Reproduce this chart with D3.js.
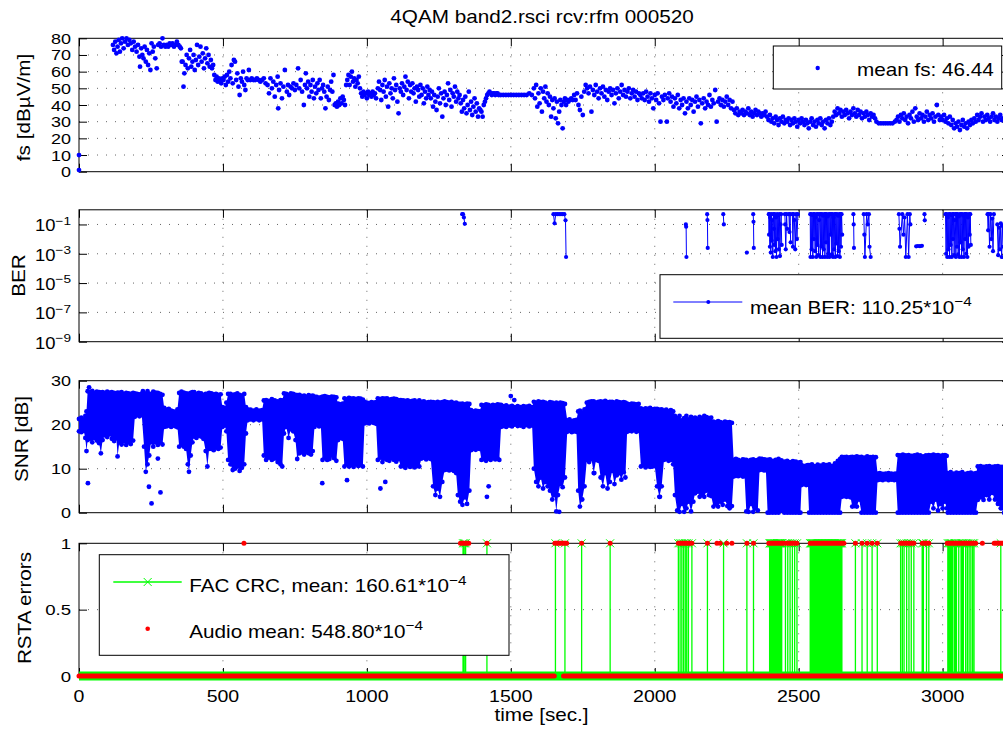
<!DOCTYPE html>
<html>
<head>
<meta charset="utf-8">
<script src="https://cdn.jsdelivr.net/npm/d3@7"></script>
<style>
    body { margin: 0; background: #fff; }
    svg text { font-family: "Liberation Sans", Arial, Helvetica, sans-serif; fill: #000; }
</style>
</head>
<body>
<div id="viz_div"></div>
<script>
// TICKS AND TEXTS
// ---------------------------------------------------------------------------------------------------------------------------------
const timeTicks = [0, 500, 1000, 1500, 2000, 2500, 3000];
const fsTicks = [0, 10, 20, 30, 40, 50, 60, 70, 80];
const berTickExp = [-9, -7, -5, -3, -1];
const snrTicks = [0, 10, 20, 30];
const rstaTicks = [0, 0.5, 1];
const titleText = "4QAM band2.rsci rcv:rfm 000520";
const legendFs = "mean fs: 46.44";
const legendBer = "mean BER: 110.25*10";
const legendFac = "FAC CRC, mean: 160.61*10";
const legendAudio = "Audio mean: 548.80*10";

// FIELD STRENGTH [time, dBuV/m]
// ---------------------------------------------------------------------------------------------------------------------------------
const fsPoints = [
    [0, 10], [0, 1],
    [118, 76], [122, 73], [126, 78], [130, 71], [134, 75], [138, 79], [142, 72], [146, 77], [150, 80], [155, 74], [160, 78], [165, 80], [170, 76], [175, 79],
    [180, 77], [185, 73], [190, 78], [195, 75], [200, 72], [205, 76], [210, 69], [212, 63], [216, 74], [220, 70], [224, 68], [228, 75], [232, 66], [236, 73],
    [240, 64], [244, 71], [248, 61], [252, 77], [256, 72], [260, 75], [265, 68], [270, 62], [275, 76], [280, 77], [285, 75], [290, 80], [295, 76], [300, 75],
    [305, 76], [310, 75], [315, 77], [320, 76], [325, 77], [330, 75], [335, 76], [340, 78], [345, 76], [350, 75], [354, 74], [357, 66],
    [360, 66], [363, 51], [366, 59], [370, 64], [374, 70], [378, 62], [382, 68], [386, 73], [390, 63], [394, 66], [398, 70], [402, 61], [406, 67], [410, 76],
    [414, 64], [418, 69], [422, 75], [426, 66], [430, 71], [434, 62], [438, 68], [442, 74], [446, 65], [450, 70], [454, 63], [458, 67], [462, 62], [466, 64], [470, 58],
    [474, 55], [478, 57], [482, 54], [486, 56], [490, 55], [494, 53], [498, 56], [502, 55], [506, 57], [510, 52], [514, 58], [518, 54], [522, 60], [526, 56],
    [530, 64], [534, 53], [538, 67], [542, 66], [546, 55], [550, 59], [554, 51], [558, 46], [562, 56], [566, 54], [570, 60], [574, 52], [578, 49], [582, 56],
    [586, 55], [590, 61], [595, 55], [600, 56], [606, 55], [612, 55], [618, 56], [624, 55], [630, 54], [636, 55], [642, 56], [648, 53],
    [655, 52], [660, 47], [665, 56], [670, 50], [675, 54], [680, 45], [685, 52], [690, 57], [692, 38], [695, 49], [700, 53], [705, 44], [710, 51], [715, 61],
    [722, 48], [726, 52], [730, 46], [735, 51], [740, 50], [745, 53], [750, 49], [755, 52], [761, 62], [765, 50], [770, 55], [775, 48], [781, 40], [785, 52],
    [788, 59], [792, 50], [796, 54], [800, 45], [804, 52], [808, 48], [812, 55], [816, 44], [820, 51], [824, 47], [828, 53], [832, 49], [836, 55], [840, 44],
    [844, 50], [848, 52], [852, 48], [856, 38], [860, 45], [864, 51], [868, 43], [872, 49], [876, 54], [880, 48], [884, 58],
    [888, 40], [892, 41], [896, 39], [900, 42], [904, 40], [908, 44], [912, 41], [916, 45], [920, 43], [924, 40],
    [928, 52], [932, 55], [936, 58], [940, 52], [944, 57], [948, 60], [952, 54], [956, 56], [960, 51], [964, 55], [968, 53], [972, 57], [976, 50],
    [980, 47], [984, 45], [988, 48], [992, 46], [996, 47], [1000, 44], [1004, 48], [1008, 46], [1012, 47], [1016, 45], [1020, 48], [1024, 46], [1028, 47], [1032, 44],
    [1038, 50], [1042, 54], [1046, 49], [1050, 43], [1054, 52], [1058, 48], [1062, 55], [1066, 45], [1070, 51], [1074, 39], [1078, 53], [1082, 47], [1086, 50],
    [1090, 44], [1094, 56], [1098, 49], [1102, 52], [1106, 42], [1110, 35], [1114, 50], [1118, 48], [1122, 53], [1126, 46], [1130, 51], [1134, 57], [1138, 49],
    [1142, 54], [1146, 44], [1150, 52], [1154, 48], [1158, 53], [1162, 47], [1166, 50], [1170, 42], [1174, 51], [1178, 49], [1182, 45], [1186, 52], [1190, 46],
    [1194, 50], [1198, 41], [1202, 48], [1206, 44], [1210, 51], [1214, 46], [1218, 49],
    [1222, 44], [1226, 48], [1230, 39], [1234, 46], [1238, 42], [1242, 37], [1246, 45], [1250, 50], [1254, 41], [1258, 47], [1262, 33], [1266, 44], [1270, 48],
    [1274, 40], [1278, 46], [1282, 53], [1286, 43], [1290, 49], [1294, 39], [1298, 47], [1302, 45], [1306, 51], [1310, 42], [1314, 48], [1318, 44], [1322, 46],
    [1326, 41], [1330, 36], [1334, 43], [1338, 38], [1342, 45], [1346, 35], [1350, 40], [1354, 48], [1358, 37], [1362, 42], [1366, 34], [1370, 39], [1374, 44],
    [1378, 36], [1382, 41], [1386, 33], [1390, 38], [1394, 37], [1398, 36], [1402, 33],
    [1406, 40], [1410, 42], [1414, 44], [1418, 46], [1422, 47], [1426, 48], [1430, 47], [1434, 46], [1438, 47], [1442, 47], [1446, 46], [1450, 47], [1454, 47], [1458, 46],
    [1465, 46], [1474, 46], [1483, 46], [1492, 46], [1501, 46], [1510, 46], [1519, 46], [1528, 46], [1537, 46], [1546, 46], [1555, 46], [1564, 47], [1573, 46],
    [1580, 50], [1584, 44], [1588, 52], [1592, 39], [1596, 47], [1600, 41], [1604, 50], [1608, 36], [1612, 48], [1616, 44], [1620, 51], [1624, 42], [1628, 47],
    [1632, 40], [1636, 45], [1640, 33], [1644, 43], [1648, 38], [1652, 44], [1656, 32], [1660, 42], [1664, 29], [1668, 36], [1672, 43], [1676, 40], [1680, 26],
    [1684, 42], [1688, 44], [1692, 40], [1696, 43], [1700, 42], [1705, 43], [1710, 44], [1715, 43], [1720, 46], [1725, 43], [1730, 47], [1735, 40], [1740, 37],
    [1745, 45], [1750, 34], [1755, 48], [1760, 52],
    [1765, 50], [1770, 47], [1775, 51], [1780, 36], [1785, 49], [1790, 46], [1795, 52], [1800, 48], [1805, 44], [1810, 50], [1815, 47], [1820, 51], [1825, 45],
    [1830, 49], [1835, 43], [1840, 48], [1845, 50], [1850, 46], [1855, 49], [1860, 41], [1865, 47], [1870, 50], [1875, 44], [1880, 48], [1885, 52], [1890, 46],
    [1895, 49], [1900, 45], [1905, 48], [1910, 50], [1915, 44], [1920, 47], [1925, 49], [1930, 45], [1935, 48], [1940, 43], [1945, 47],
    [1950, 46], [1955, 44], [1960, 47], [1965, 43], [1970, 48], [1975, 45], [1980, 42], [1985, 47], [1990, 44], [1995, 38], [2000, 46], [2005, 43], [2010, 47],
    [2015, 41], [2020, 30], [2025, 45], [2030, 43], [2035, 46], [2042, 30], [2045, 44], [2050, 47], [2055, 42], [2060, 45], [2065, 39], [2070, 44], [2075, 41],
    [2080, 46], [2085, 38], [2090, 43], [2095, 40], [2100, 44], [2105, 35],
    [2110, 42], [2115, 38], [2120, 44], [2125, 40], [2130, 43], [2135, 36], [2140, 42], [2145, 45], [2150, 39], [2155, 43], [2160, 29], [2165, 41], [2170, 44],
    [2175, 38], [2180, 42], [2185, 40], [2190, 46], [2195, 39], [2200, 43], [2205, 41], [2210, 49], [2215, 30], [2220, 42], [2225, 44], [2230, 40], [2235, 43],
    [2240, 39], [2245, 42], [2250, 45], [2255, 40], [2260, 43], [2265, 38], [2270, 42],
    [2275, 37], [2280, 35], [2285, 38], [2290, 34], [2295, 36], [2300, 35], [2305, 37], [2310, 34], [2315, 36], [2320, 35], [2325, 38], [2330, 34], [2335, 36],
    [2340, 33], [2345, 35], [2350, 37], [2355, 34], [2360, 36], [2365, 35], [2370, 33], [2375, 35], [2380, 34], [2385, 36],
    [2390, 33], [2395, 31], [2400, 34], [2405, 30], [2410, 32], [2415, 29], [2420, 33], [2425, 31], [2430, 28], [2435, 32], [2440, 30], [2445, 33], [2450, 29],
    [2455, 31], [2460, 30], [2465, 32], [2470, 28], [2475, 31], [2480, 29], [2485, 32], [2490, 30], [2495, 27], [2500, 31], [2505, 29], [2510, 32], [2515, 30],
    [2520, 28], [2525, 31], [2530, 29], [2535, 26], [2540, 30], [2545, 32], [2550, 28], [2555, 30], [2560, 27], [2565, 31], [2570, 29], [2575, 32], [2580, 28],
    [2585, 30], [2590, 26], [2595, 31], [2600, 29], [2605, 32], [2610, 28], [2615, 30],
    [2620, 33], [2625, 36], [2630, 34], [2635, 38], [2640, 35], [2645, 37], [2650, 33], [2655, 36], [2660, 34], [2665, 37], [2670, 35], [2675, 32], [2680, 36],
    [2685, 34], [2690, 38], [2695, 35], [2700, 33], [2705, 37], [2710, 34], [2715, 36], [2720, 32], [2725, 35], [2730, 33], [2735, 36], [2740, 34], [2745, 31],
    [2750, 35], [2755, 33], [2760, 34], [2765, 32],
    [2770, 30], [2778, 29], [2786, 29], [2794, 29], [2802, 29], [2810, 29], [2818, 29], [2826, 29], [2834, 30],
    [2840, 31], [2845, 33], [2850, 30], [2855, 34], [2860, 32], [2865, 35], [2870, 31], [2875, 33], [2880, 29], [2885, 34], [2890, 32], [2895, 36], [2900, 30],
    [2905, 38], [2910, 33], [2915, 31], [2920, 35], [2925, 32], [2930, 34], [2935, 30], [2940, 33], [2945, 36], [2950, 31], [2955, 34], [2960, 32], [2965, 35],
    [2970, 30], [2975, 33], [2980, 40], [2985, 34], [2990, 31], [2995, 33], [3000, 31], [3005, 34], [3010, 30], [3015, 32], [3020, 29], [3025, 33],
    [3030, 28], [3035, 31], [3040, 26], [3045, 29], [3050, 27], [3055, 30], [3060, 25], [3065, 28], [3070, 31], [3075, 27], [3080, 29], [3085, 26], [3090, 30],
    [3095, 28], [3100, 31], [3105, 29], [3110, 32], [3115, 30], [3120, 34], [3125, 31], [3130, 33], [3135, 35], [3140, 30], [3145, 33], [3150, 31], [3155, 34],
    [3160, 32], [3165, 30], [3170, 33], [3175, 35], [3180, 31], [3185, 33], [3190, 30], [3195, 32], [3200, 34], [3205, 31], [3210, 32]
];

// BIT ERROR RATE, ONE RUN PER UNBROKEN STRETCH [time, BER]
// ---------------------------------------------------------------------------------------------------------------------------------
const berRuns = [
    [[1331, 0.5], [1334, 0.5], [1337, 0.3], [1340, 0.11]],
    [[1648, 0.5], [1652, 0.12], [1656, 0.5], [1662, 0.5], [1668, 0.5], [1674, 0.5], [1680, 0.5], [1686, 0.5], [1690, 0.19], [1692, 0.0006]],
    [[2108, 0.1], [2109, 0.07], [2110, 0.0006]],
    [[2182, 0.5], [2183, 0.2], [2184, 0.0025]],
    [[2238, 0.5], [2240, 0.1]],
    [[2320, 0.0012]],
    [[2342, 0.5], [2343, 0.15], [2344, 0.0025]],
    [[2396, 0.5], [2397, 0.02], [2398, 0.5], [2400, 0.003], [2401, 0.3], [2403, 0.0012], [2405, 0.5], [2406, 0.008], [2408, 0.2], [2410, 0.0006], [2412, 0.5],
     [2414, 0.05], [2415, 0.004], [2417, 0.5], [2419, 0.0015], [2421, 0.3], [2423, 0.0006], [2425, 0.5], [2427, 0.01], [2429, 0.45], [2431, 0.002], [2433, 0.5],
     [2435, 0.0007], [2437, 0.1], [2439, 0.5], [2441, 0.004]],
    [[2452, 0.5], [2453, 0.1], [2455, 0.002], [2458, 0.5], [2460, 0.05]],
    [[2466, 0.5], [2468, 0.03], [2470, 0.5], [2472, 0.006]],
    [[2478, 0.5], [2480, 0.003], [2482, 0.5], [2485, 0.2], [2488, 0.002], [2491, 0.5], [2494, 0.01], [2497, 0.5]],
    [[2540, 0.5], [2541, 0.0006], [2543, 0.5], [2545, 0.002], [2547, 0.45], [2549, 0.0006], [2551, 0.5], [2553, 0.01], [2555, 0.5], [2557, 0.0015], [2559, 0.3],
     [2561, 0.0006], [2563, 0.5], [2565, 0.004], [2567, 0.5], [2569, 0.0008], [2571, 0.2], [2573, 0.5], [2575, 0.0006], [2577, 0.5], [2579, 0.003], [2581, 0.5],
     [2583, 0.0006], [2585, 0.4], [2587, 0.002], [2589, 0.5], [2591, 0.0006], [2593, 0.5], [2595, 0.006], [2597, 0.5], [2599, 0.0006], [2601, 0.35], [2603, 0.001],
     [2605, 0.5], [2607, 0.0006], [2609, 0.5], [2611, 0.02], [2613, 0.5], [2615, 0.0009], [2617, 0.5], [2619, 0.0006], [2621, 0.3], [2623, 0.002], [2625, 0.5],
     [2627, 0.0006], [2629, 0.5], [2631, 0.005], [2633, 0.5], [2635, 0.0007], [2637, 0.4], [2639, 0.0015], [2641, 0.5], [2643, 0.0006], [2645, 0.5], [2647, 0.003],
     [2649, 0.5], [2651, 0.02]],
    [[2690, 0.5], [2691, 0.1], [2692, 0.0025]],
    [[2726, 0.5], [2728, 0.02], [2730, 0.0006], [2736, 0.5], [2740, 0.1], [2744, 0.5], [2746, 0.003], [2750, 0.0006]],
    [[2848, 0.5], [2850, 0.05], [2852, 0.003], [2860, 0.5], [2864, 0.02], [2868, 0.3], [2872, 0.0006], [2878, 0.5], [2882, 0.0006], [2886, 0.5], [2888, 0.1]],
    [[2908, 0.0032], [2914, 0.0034], [2921, 0.0033], [2928, 0.0035]],
    [[2937, 0.5], [2938, 0.19]],
    [[3010, 0.5], [3012, 0.001], [3014, 0.5], [3016, 0.0006], [3018, 0.3], [3020, 0.002], [3022, 0.5], [3024, 0.0006], [3026, 0.5], [3028, 0.004], [3030, 0.45],
     [3032, 0.0006], [3034, 0.5], [3036, 0.01], [3038, 0.5], [3040, 0.0008], [3042, 0.2], [3044, 0.5], [3046, 0.0006], [3048, 0.5], [3050, 0.003], [3052, 0.5],
     [3054, 0.0009], [3056, 0.35], [3058, 0.0006], [3060, 0.5], [3062, 0.006], [3064, 0.5], [3066, 0.0006], [3068, 0.5], [3070, 0.002], [3072, 0.4], [3074, 0.0006],
     [3076, 0.5], [3078, 0.01], [3080, 0.5], [3082, 0.001], [3084, 0.5], [3086, 0.0006], [3088, 0.3], [3090, 0.003], [3092, 0.5], [3094, 0.02], [3096, 0.5], [3098, 0.004]],
    [[3156, 0.5], [3158, 0.04], [3160, 0.5], [3163, 0.003], [3166, 0.5], [3169, 0.01], [3172, 0.25], [3175, 0.0015], [3178, 0.5]],
    [[3190, 0.1], [3193, 0.0008], [3196, 0.06], [3199, 0.002], [3202, 0.12], [3205, 0.0006], [3208, 0.08], [3211, 0.003]]
];

// SNR: DENSE CLOUD AS [time, lowest, highest] PLUS STRAY POINTS [time, dB]
// ---------------------------------------------------------------------------------------------------------------------------------
const snrBand = [
    [0, 18.5, 21.3], [8, 18.3, 21.6], [16, 18.6, 21.2], [22, 17, 22], [26, 14, 23], [30, 16.5, 27.6], [38, 16.8, 27.4], [46, 16, 27.7], [54, 17, 27.2], [62, 16.4, 27.5],
    [70, 15.8, 27.4], [76, 13.5, 27.3], [82, 16.5, 27.4], [90, 17.6, 27.2], [98, 17.2, 27.5], [106, 17.8, 27.3], [114, 16.8, 27.4], [122, 16.3, 27.2], [130, 16.9, 27.1],
    [134, 12.8, 27.3], [140, 16, 27.2], [148, 15.5, 27.4], [156, 16.2, 27], [164, 15.4, 27.2], [172, 16, 27.1], [180, 15.6, 27], [188, 16.4, 27.2], [194, 21.8, 27.1],
    [202, 22.2, 27], [210, 21.9, 26.9], [218, 22.2, 27], [226, 15, 27], [232, 9.3, 26.8], [238, 11, 27], [244, 13, 26.9], [250, 16, 27], [258, 15, 27.5], [266, 16, 27.3],
    [274, 15.4, 27.2], [282, 16, 27], [290, 15.5, 26.8], [296, 19.5, 23.8], [304, 19.6, 23.4], [312, 19.8, 23.6], [320, 19.5, 23.2], [328, 19.8, 23], [336, 19.6, 22.8],
    [342, 19.4, 23.5], [348, 15, 27.2], [356, 15.4, 27.5], [364, 15, 27.3], [372, 14.5, 27.1], [378, 11, 27], [382, 9.3, 27], [388, 13, 27.2], [394, 16, 27.4],
    [400, 17.3, 27.4], [408, 17, 27], [416, 17.5, 27.2], [424, 17.3, 27.1], [432, 16.8, 26.8], [440, 14, 27], [446, 10.5, 27], [452, 14.5, 27.2], [460, 14.5, 27.1],
    [468, 14.2, 26.9], [476, 14.8, 27], [484, 14.5, 26.8], [492, 14.8, 26.9], [498, 19.5, 24], [506, 19.8, 23.8], [512, 18.5, 25], [518, 12, 27], [526, 11, 27],
    [534, 9.7, 26.8], [542, 10, 26.9], [550, 10.5, 27.1], [558, 9.5, 26.8], [566, 10.2, 26.6], [574, 11, 27], [580, 18, 24], [586, 21, 23.5], [596, 21.2, 23.4],
    [606, 21, 23.2], [616, 21.3, 23.5], [626, 21, 23.2], [636, 21.2, 23.3], [642, 13, 25.5], [650, 12, 25.6], [660, 12.5, 25.4], [670, 12, 25.8], [680, 12.3, 25.5],
    [690, 11.5, 25.3], [700, 11, 25.6], [706, 10.5, 25.5], [712, 18, 27.1], [720, 19.5, 27], [728, 17, 26.8], [736, 19, 27.1], [744, 18.5, 27], [752, 16.5, 26.8],
    [758, 12.2, 26.7], [766, 13.5, 26.8], [774, 13.8, 26.5], [782, 13.2, 26.6], [790, 13.8, 26.4], [798, 13.5, 26.7], [806, 13.2, 26.5], [812, 14, 26.6],
    [818, 19.5, 26.4], [826, 20, 26.3], [834, 19.6, 26.1], [840, 19.8, 26.2], [846, 12, 26.4], [854, 12.5, 26.5], [862, 12, 26.3], [870, 12.2, 26.2], [878, 13, 26.4],
    [886, 12.4, 26.3], [894, 11.8, 26.2], [900, 16.5, 24.8], [908, 17, 24.6], [916, 16.8, 24.8], [922, 10.5, 26], [930, 11, 25.8], [938, 10.5, 26.1], [946, 10.8, 25.9],
    [954, 10.4, 26], [962, 11, 25.8], [970, 10.6, 26], [978, 10.8, 25.9], [986, 10.5, 25.7], [992, 20.3, 25.2], [1000, 20.5, 25], [1008, 20.3, 24.9], [1016, 20.6, 25.1],
    [1024, 20.4, 25], [1032, 20.2, 25.1], [1038, 12, 26], [1046, 12.5, 25.8], [1054, 11.5, 26], [1062, 12.3, 25.9], [1070, 12, 26], [1078, 11.8, 25.7], [1086, 12.4, 25.8],
    [1094, 12, 25.9], [1102, 11.6, 25.8], [1110, 12.2, 25.6], [1118, 10.5, 25.6], [1126, 10.6, 25.5], [1134, 10.2, 25.4], [1142, 10.8, 25.5], [1150, 10.4, 25.3],
    [1158, 10.7, 25.4], [1166, 10.3, 25.5], [1174, 10.6, 25.2], [1182, 10.5, 25.5], [1190, 12.3, 25.2], [1198, 12.5, 25.3], [1206, 12.1, 25], [1214, 12.4, 25.1],
    [1222, 12.2, 25.2], [1230, 6, 25.1], [1238, 4, 25], [1246, 5.5, 25.2], [1254, 3.6, 25], [1262, 7, 25.1], [1270, 9.7, 25.3], [1278, 9.8, 25.1], [1286, 9.6, 25],
    [1294, 9.8, 25.2], [1302, 9.5, 24.9], [1310, 9, 25], [1316, 4, 24.8], [1324, 2.5, 24.7], [1332, 1.8, 24.8], [1340, 3.5, 24.6], [1348, 2, 24.8], [1356, 5, 24.7],
    [1362, 14.2, 23.3], [1370, 14.5, 23], [1378, 14.3, 23.2], [1386, 14.6, 23.1], [1392, 14.5, 23], [1398, 12, 24.5], [1406, 12.2, 24.4], [1414, 11.8, 24.6],
    [1422, 12.3, 24.5], [1430, 12, 24.3], [1438, 12.4, 24.5], [1446, 12.1, 24.4], [1454, 12.3, 24.6], [1460, 12, 24.5],
    [1466, 19.5, 24.5], [1474, 19.7, 24.2], [1484, 19.5, 24.4], [1494, 19.8, 24.1], [1504, 19.6, 24.3], [1514, 20, 24], [1524, 19.7, 24.2], [1534, 19.8, 24],
    [1544, 19.5, 24.2], [1554, 19.9, 24.1], [1564, 19.6, 24.3], [1574, 19.8, 24],
    [1580, 10, 25.2], [1588, 7, 25], [1596, 6, 25.3], [1604, 8, 25.1], [1612, 5.5, 25.2], [1620, 7, 25], [1628, 6, 24.8], [1636, 5, 25.1], [1644, 3, 25], [1652, 4, 24.8],
    [1658, 0.3, 25], [1664, 4, 24.8], [1672, 6.5, 25], [1680, 5.8, 24.9], [1688, 8, 24.7],
    [1696, 18.4, 21], [1704, 18.6, 21.2], [1712, 18.3, 20.8], [1720, 18.5, 21], [1728, 18.4, 21.1],
    [1734, 5, 23], [1740, 1.4, 23.2], [1748, 3, 22.8], [1756, 6, 23.5], [1764, 12, 25], [1772, 11.5, 25.2], [1780, 12.2, 25.3], [1788, 9, 25.3], [1796, 12, 25],
    [1804, 11.8, 25.2], [1812, 8, 25.3], [1820, 6, 25.2], [1828, 9, 25.4], [1836, 5.5, 25.1], [1844, 7, 25.2], [1852, 9.5, 25.2], [1860, 6.5, 25], [1868, 8.5, 25.3],
    [1876, 9, 25.1], [1884, 7.5, 25], [1892, 9.2, 25.1], [1898, 8, 25],
    [1904, 18.4, 24.8], [1912, 18.6, 24.6], [1920, 18.5, 24.8], [1928, 18.8, 24.7], [1936, 18.4, 24.6], [1944, 18.6, 24.7],
    [1952, 10.5, 23.7], [1960, 10.8, 23.5], [1968, 10.3, 23.7], [1976, 10.6, 23.6], [1984, 10.4, 23.8], [1992, 10.5, 23.5], [2000, 10.6, 23.6], [2008, 6, 23.6],
    [2016, 3.6, 23.4], [2024, 6, 23.5], [2032, 12, 23.2], [2040, 12.2, 23.4], [2048, 11.8, 23.1], [2056, 12, 23.3], [2064, 11, 23],
    [2070, 4, 22], [2078, 0.5, 21.5], [2086, 0.2, 22], [2094, 2, 21], [2102, 0.2, 21.5], [2110, 1, 22], [2118, 2.5, 21.2], [2126, 0.3, 21.8], [2134, 2.5, 21.4],
    [2140, 4.4, 21.6], [2148, 4.8, 21.3], [2156, 3.6, 21.8], [2164, 4, 21.5], [2172, 3.6, 22], [2180, 5, 21.7], [2188, 4, 21.5], [2196, 3.8, 21.6], [2204, 1.4, 20.7],
    [2212, 2, 20.5], [2220, 1.4, 20.8], [2228, 2.5, 20.6], [2236, 1.8, 20.4], [2244, 3, 20.7], [2252, 1.5, 20.5], [2260, 1, 20.6], [2268, 1.5, 20.4],
    [2274, 8.2, 12], [2282, 8.4, 12.2], [2290, 8.3, 12], [2298, 8.5, 11.8], [2306, 8.2, 12.1], [2312, 8.3, 12],
    [2318, 0.3, 12], [2326, 0.2, 11.8], [2334, 2, 12], [2342, 0.2, 12.1], [2350, 1, 11.9], [2358, 0.5, 12],
    [2364, 9.7, 12.3], [2372, 9.8, 12.2], [2380, 9.6, 12.1], [2386, 9.7, 12],
    [2392, 0, 12], [2400, 0, 12.1], [2410, 0, 11.8], [2420, 0, 12], [2430, 0, 12.2], [2440, 0.5, 11.9], [2450, 0, 11.6], [2460, 0, 11.8], [2470, 0, 11.5],
    [2480, 0, 11.7], [2490, 0, 11.6], [2500, 0, 11.4], [2506, 0, 11.5],
    [2510, 6.3, 10.8], [2518, 6.5, 10.6], [2526, 6.3, 10.7], [2532, 6.4, 10.8],
    [2536, 0, 10.8], [2546, 0, 11], [2556, 0, 10.6], [2566, 0, 10.9], [2576, 0, 10.7], [2586, 0, 11], [2596, 0, 10.8], [2606, 0, 11], [2616, 0, 10.6], [2626, 0, 11.2],
    [2636, 0, 11.8], [2644, 0, 12.2],
    [2650, 3.6, 12.7], [2658, 3.8, 12.6], [2666, 3.6, 12.7], [2674, 3.7, 12.5], [2680, 3.5, 12.6],
    [2686, 1.4, 12.7], [2694, 1.5, 12.6], [2702, 1.4, 12.8], [2710, 3, 12.6], [2718, 0, 12.7], [2728, 0, 12.5], [2738, 0, 12.8], [2748, 0, 12.6], [2758, 0, 12.7],
    [2768, 0, 12.6],
    [2774, 7.4, 8.9], [2782, 7.5, 9], [2792, 7.4, 8.8], [2802, 7.6, 8.9], [2812, 7.4, 9], [2822, 7.5, 8.9], [2832, 7.4, 8.8], [2838, 7.5, 8.9],
    [2844, 0, 13.1], [2852, 0, 13], [2862, 0, 13.2], [2872, 0, 13], [2882, 0, 13.1], [2892, 0, 12.9], [2902, 0, 13], [2912, 0, 13.2], [2922, 0, 13], [2932, 0, 12.8],
    [2942, 0, 13], [2952, 0, 13.1],
    [2960, 2.5, 13], [2968, 1, 13.2], [2976, 3, 13], [2984, 0.5, 13.1], [2992, 2, 12.9], [3000, 1, 13], [3008, 2.5, 13.1], [3014, 1, 12.9],
    [3018, 0, 9], [3028, 0, 9.2], [3038, 0, 8.9], [3048, 0, 9.1], [3058, 0, 9], [3068, 0, 9.2], [3078, 0, 8.8], [3088, 0, 9], [3098, 0, 9.1], [3108, 0, 8.9], [3116, 0, 9],
    [3122, 2.9, 10.5], [3132, 3.5, 10.6], [3142, 2.9, 10.4], [3152, 4, 10.5], [3162, 3, 10.6], [3172, 4.5, 10.4], [3182, 3, 10.5], [3192, 2, 10.6], [3202, 1, 10.4],
    [3214, 0, 10.5]
];
const snrStray = [
    [31, 6.7], [35, 28.5], [110, 18.5], [222, 27.6], [238, 27.6], [243, 5.9], [252, 2.1], [274, 12.3], [283, 4.6], [845, 6.7], [931, 7.4], [1047, 5.5],
    [1064, 7], [1417, 3.6], [1423, 6], [1512, 25.6], [1668, 0.2], [1790, 9], [2018, 3.6], [1500, 26.5]
];

// RSTA: FAC CRC ERROR TIMES, AUDIO ERROR RUNS [from, to] AND AUDIO OK RUNS [from, to]
// ---------------------------------------------------------------------------------------------------------------------------------
const facErrTimes = [
    1334, 1338, 1343, 1417, 1655, 1688, 1746, 1845,
    2082, 2088, 2094, 2100, 2106, 2111, 2117, 2129,
    2183, 2239, 2320, 2343,
    2399, 2401, 2404, 2406, 2409, 2411, 2414, 2416, 2419, 2421, 2424, 2426, 2429, 2431, 2434, 2436, 2439, 2441,
    2454, 2462, 2470, 2478, 2486, 2494,
    2540, 2542, 2545, 2547, 2550, 2552, 2555, 2557, 2560, 2562, 2565, 2567, 2570, 2572, 2575, 2577, 2580, 2582, 2585, 2587, 2590, 2592,
    2595, 2597, 2600, 2602, 2605, 2607, 2610, 2612, 2615, 2617, 2620, 2622, 2625, 2627, 2630, 2632, 2635, 2637, 2640, 2642, 2645, 2647, 2650,
    2697, 2720, 2738, 2755, 2773,
    2854, 2860, 2866, 2875, 2883, 2891, 2900,
    2929, 2933, 2944, 2952,
    3018, 3022, 3026, 3030, 3034, 3040, 3044, 3048, 3056, 3064, 3068, 3072, 3080, 3086, 3092, 3098, 3104, 3109,
    3202
];
const audioErrRuns = [
    [573, 573], [1325, 1354], [1417, 1417], [1653, 1694], [1746, 1746], [1845, 1845], [2082, 2129], [2183, 2183], [2216, 2216], [2227, 2227],
    [2250, 2250], [2268, 2268], [2320, 2320], [2343, 2343], [2396, 2448], [2457, 2494], [2540, 2657], [2697, 2697], [2720, 2720], [2738, 2738],
    [2755, 2755], [2773, 2773], [2854, 2900], [2929, 2952], [3016, 3115], [3138, 3138], [3179, 3214]
];
const audioOkRuns = [[0, 1651], [1683, 3214]];
const tEnd = 3214;

// SCALERS AND LAYOUT
// ---------------------------------------------------------------------------------------------------------------------------------
const width = 1003, height = 733;
const x = d3.scaleLinear([0, 3234], [79, 1010]);
const yFs = d3.scaleLinear([0, 80], [171.7, 38.3]);
const yBer = d3.scaleLog([1e-9, 1], [341.7, 209.8]);
const ySnr = d3.scaleLinear([0, 30], [512.7, 380.7]);
const yRsta = d3.scaleLinear([0, 1], [676, 543.3]);
const blue = "#0000ff", green = "#00ff00", red = "#ff0000";

const svg = d3.select("#viz_div")
    .append("svg")
    .attr("width", width)
    .attr("height", height);

// text is drawn a little wider than the font, like the original export
function label(g, px, py, str, o = {}) {
    const size = o.size || 17, sx = o.sx || 1.15;
    const t = g.append("text")
        .attr("transform", `translate(${px},${py})` + (o.rotate ? ` rotate(${o.rotate})` : "") + ` scale(${sx},1)`)
        .attr("text-anchor", o.anchor || "middle")
        .style("font-size", size + "px")
        .text(str);
    if (o.sup) {
        t.append("tspan")
            .attr("dy", -size * 0.42)
            .style("font-size", (size * 0.74) + "px")
            .text(o.sup);
    }
    return t;
}

// FRAME, TICKS AND DOTTED GRID OF ONE PANEL
// ---------------------------------------------------------------------------------------------------------------------------------
function panelFrame(y, yVals) {
    const top = y.range()[1], bottom = y.range()[0];
    const g = svg.append("g");

    g.selectAll("line.gx")
        .data(timeTicks.filter(d => d > 0))
        .enter().append("line")
        .attr("x1", d => x(d)).attr("x2", d => x(d))
        .attr("y1", top).attr("y2", bottom)
        .attr("stroke", "#000").attr("stroke-opacity", 0.6)
        .attr("stroke-dasharray", "1,8");

    g.selectAll("line.gy")
        .data(yVals.filter(v => y(v) > top + 1 && y(v) < bottom - 1))
        .enter().append("line")
        .attr("x1", x.range()[0]).attr("x2", x.range()[1])
        .attr("y1", d => y(d)).attr("y2", d => y(d))
        .attr("stroke", "#000").attr("stroke-opacity", 0.6)
        .attr("stroke-dasharray", "1,8");

    const clean = s => s.call(a => a.select(".domain").remove()).selectAll("text").remove();
    g.append("g").attr("transform", `translate(0,${bottom})`)
        .call(d3.axisBottom(x).tickValues(timeTicks).tickSize(-8).tickFormat("")).call(clean);
    g.append("g").attr("transform", `translate(0,${top})`)
        .call(d3.axisTop(x).tickValues(timeTicks).tickSize(-8).tickFormat("")).call(clean);
    g.append("g").attr("transform", `translate(${x.range()[0]},0)`)
        .call(d3.axisLeft(y).tickValues(yVals).tickSize(-8).tickFormat("")).call(clean);
    g.append("g").attr("transform", `translate(${x.range()[1]},0)`)
        .call(d3.axisRight(y).tickValues(yVals).tickSize(-8).tickFormat("")).call(clean);

    g.append("rect")
        .attr("x", x.range()[0]).attr("y", top)
        .attr("width", x.range()[1] - x.range()[0]).attr("height", bottom - top)
        .attr("fill", "none").attr("stroke", "#000").attr("stroke-width", 1);
    return g;
}

const txt = svg.append("g");
label(txt, 542, 22.5, titleText, { size: 18 });

// PANEL 1: FIELD STRENGTH
// ---------------------------------------------------------------------------------------------------------------------------------
panelFrame(yFs, fsTicks);
fsTicks.forEach(v => label(txt, 71, yFs(v) + 5.5, String(v), { anchor: "end", size: 15.5, sx: 1.16 }));
label(txt, 30, 107.5, "fs [dBµV/m]", { size: 18, rotate: -90 });

svg.append("g").selectAll("circle")
    .data(fsPoints)
    .enter().append("circle")
    .attr("cx", d => x(d[0]))
    .attr("cy", d => yFs(d[1]))
    .attr("r", 2.4)
    .attr("fill", blue);

const lg1 = svg.append("g");
lg1.append("rect").attr("x", 773.3).attr("y", 46).attr("width", 228.4).attr("height", 43)
    .attr("fill", "#fff").attr("stroke", "#000");
lg1.append("circle").attr("cx", 817.7).attr("cy", 68).attr("r", 2.2).attr("fill", blue);
label(lg1, 857, 75.5, legendFs, { size: 18, anchor: "start" });

// PANEL 2: BER (LOG)
// ---------------------------------------------------------------------------------------------------------------------------------
const berTicks = berTickExp.map(e => Math.pow(10, e));
panelFrame(yBer, berTicks);
berTickExp.forEach(e => label(txt, 71, yBer(Math.pow(10, e)) + 7, "10", { anchor: "end", size: 16, sup: "\u2212" + Math.abs(e) }));
label(txt, 25, 275.5, "BER", { size: 18, rotate: -90 });

const berLine = d3.line().x(d => x(d[0])).y(d => yBer(d[1]));
const berG = svg.append("g");
berG.selectAll("path")
    .data(berRuns)
    .enter().append("path")
    .attr("d", berLine)
    .attr("fill", "none")
    .attr("stroke", blue)
    .attr("stroke-width", 1);
berG.selectAll("circle")
    .data(berRuns.flat())
    .enter().append("circle")
    .attr("cx", d => x(d[0]))
    .attr("cy", d => yBer(d[1]))
    .attr("r", 2.1)
    .attr("fill", blue);

const lg2 = svg.append("g");
lg2.append("rect").attr("x", 660).attr("y", 274.7).attr("width", 350).attr("height", 63.6)
    .attr("fill", "#fff").attr("stroke", "#000");
lg2.append("line").attr("x1", 673.3).attr("x2", 742.3).attr("y1", 302).attr("y2", 302)
    .attr("stroke", blue).attr("stroke-width", 1);
lg2.append("circle").attr("cx", 708.3).attr("cy", 302).attr("r", 2).attr("fill", blue);
label(lg2, 750, 314, legendBer, { size: 18, anchor: "start", sup: "\u22124" });

// PANEL 3: SNR
// ---------------------------------------------------------------------------------------------------------------------------------
panelFrame(ySnr, snrTicks);
snrTicks.forEach(v => label(txt, 71, ySnr(v) + 5.5, String(v), { anchor: "end", size: 15.5, sx: 1.16 }));
label(txt, 28, 439, "SNR [dB]", { size: 18, rotate: -90 });

const snrG = svg.append("g");
snrG.append("path")
    .datum(snrBand)
    .attr("d", d3.area().x(d => x(d[0])).y0(d => ySnr(d[1])).y1(d => ySnr(d[2])))
    .attr("fill", blue);
snrG.selectAll("circle.lo")
    .data(snrBand)
    .enter().append("circle")
    .attr("cx", d => x(d[0])).attr("cy", d => ySnr(d[1])).attr("r", 2.4).attr("fill", blue);
snrG.selectAll("circle.hi")
    .data(snrBand)
    .enter().append("circle")
    .attr("cx", d => x(d[0])).attr("cy", d => ySnr(d[2])).attr("r", 2.4).attr("fill", blue);
snrG.selectAll("circle.st")
    .data(snrStray)
    .enter().append("circle")
    .attr("cx", d => x(d[0])).attr("cy", d => ySnr(d[1])).attr("r", 2.4).attr("fill", blue);

// PANEL 4: RSTA ERRORS
// ---------------------------------------------------------------------------------------------------------------------------------
panelFrame(yRsta, rstaTicks);
rstaTicks.forEach(v => label(txt, 71, yRsta(v) + 5.5, String(v), { anchor: "end", size: 15.5, sx: 1.2 }));
label(txt, 31, 608, "RSTA errors", { size: 18, rotate: -90 });
timeTicks.forEach(t => label(txt, x(t), 701.5, String(t)));
label(txt, 541.5, 721, "time [sec.]", { size: 18 });

const rstaG = svg.append("g");
const facLine = [[0, 0]];
facErrTimes.forEach(t => { facLine.push([t, 0], [t, 1], [t, 0]); });
facLine.push([tEnd, 0]);

rstaG.append("path")
    .datum(facLine)
    .attr("d", d3.line().x(d => x(d[0])).y(d => yRsta(d[1])))
    .attr("fill", "none")
    .attr("stroke", green)
    .attr("stroke-width", 1.3);
// x markers sitting on every sample of the zero line merge into a band
rstaG.append("line")
    .attr("x1", x(0)).attr("x2", x(tEnd))
    .attr("y1", yRsta(0)).attr("y2", yRsta(0))
    .attr("stroke", green).attr("stroke-width", 9);
rstaG.selectAll("path.mk")
    .data(facErrTimes)
    .enter().append("path")
    .attr("transform", d => `translate(${x(d)},${yRsta(1)})`)
    .attr("d", "M-4,-4L4,4M-4,4L4,-4")
    .attr("stroke", green).attr("stroke-width", 1);

rstaG.selectAll("line.ok")
    .data(audioOkRuns)
    .enter().append("line")
    .attr("x1", d => x(d[0])).attr("x2", d => x(d[1]))
    .attr("y1", yRsta(0)).attr("y2", yRsta(0))
    .attr("stroke", red).attr("stroke-width", 5).attr("stroke-linecap", "round");
rstaG.selectAll("line.err")
    .data(audioErrRuns)
    .enter().append("line")
    .attr("x1", d => x(d[0])).attr("x2", d => x(d[1]))
    .attr("y1", yRsta(1)).attr("y2", yRsta(1))
    .attr("stroke", red).attr("stroke-width", 5).attr("stroke-linecap", "round");

const lg4 = svg.append("g");
lg4.append("rect").attr("x", 99.3).attr("y", 554.7).attr("width", 409.7).attr("height", 100.6)
    .attr("fill", "#fff").attr("stroke", "#000");
lg4.append("line").attr("x1", 113.3).attr("x2", 181.7).attr("y1", 582).attr("y2", 582)
    .attr("stroke", green).attr("stroke-width", 1.3);
lg4.append("path").attr("transform", "translate(147.7,582)").attr("d", "M-4,-4L4,4M-4,4L4,-4")
    .attr("stroke", green).attr("stroke-width", 1);
label(lg4, 189.3, 592.3, legendFac, { size: 18, anchor: "start", sup: "\u22124" });
lg4.append("circle").attr("cx", 147.7).attr("cy", 628.7).attr("r", 2.3).attr("fill", red);
label(lg4, 189.3, 637.5, legendAudio, { size: 18, anchor: "start", sup: "\u22124" });

// keep the text layer on top
txt.raise();
</script>
</body>
</html>
